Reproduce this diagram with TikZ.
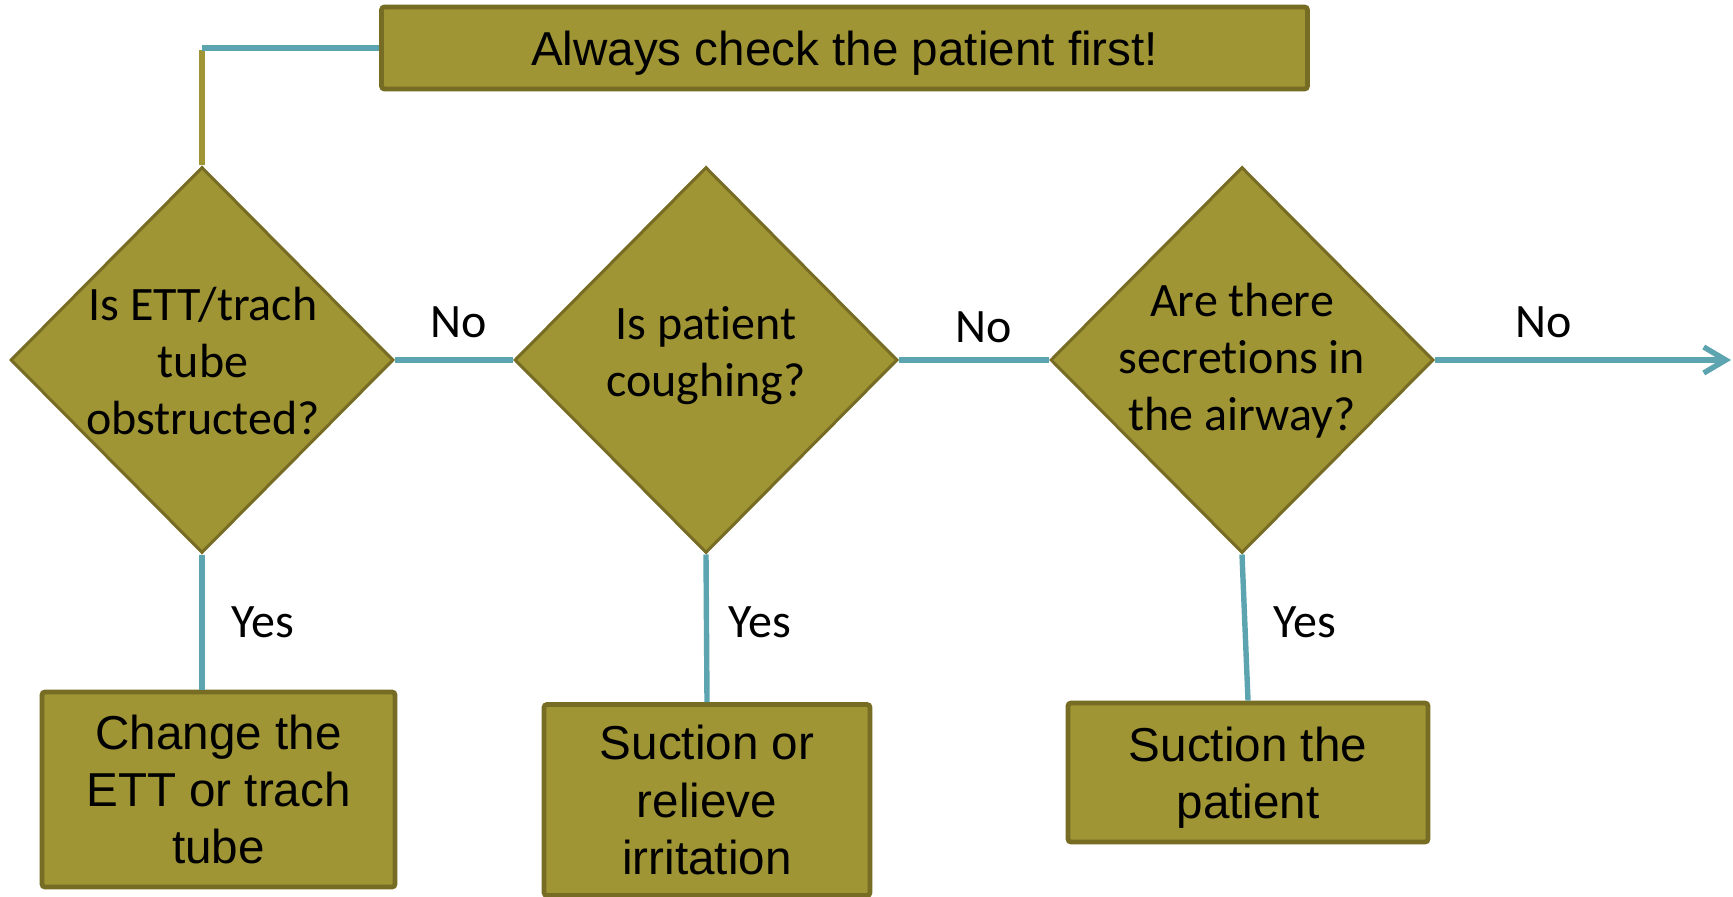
\documentclass[tikz,border=0pt]{standalone}
\usepackage{fontspec}
\setmainfont{Carlito}[Ligatures=NoCommon]
\newfontfamily\boxfont{Liberation Sans}
\usetikzlibrary{shapes.geometric,arrows.meta}
\definecolor{olivefill}{RGB}{160,149,52}
\definecolor{olivedraw}{RGB}{118,108,35}
\definecolor{tealline}{RGB}{91,164,176}
\begin{document}
\begin{tikzpicture}[x=0.5pt,y=-0.5pt,
  decision/.style={diamond,draw=olivedraw,fill=olivefill,line width=1.5pt,inner sep=0pt,minimum width=191.5pt,minimum height=193pt},
  qtext/.style={align=center,font=\fontsize{24}{28.5}\selectfont},
  actbox/.style={draw=olivedraw,fill=olivefill,line width=2.4pt,rounded corners=1.5pt,align=center,inner sep=0pt,font=\boxfont\fontsize{23.8}{28.7}\selectfont},
  lbl/.style={font=\fontsize{24}{28.5}\selectfont},
  flow/.style={tealline,line width=2.7pt}]
  \useasboundingbox (0,0) rectangle (1733,897);
  % top reminder
  \node[actbox,minimum width=463pt,minimum height=41pt,text depth=0pt] (check) at (844.5,48) {Always check the patient first!};
  % decisions
  \node[decision] (tube) at (202,360) {};
  \node[qtext] (tubet) at (203,361) {Is ETT/trach\\tube\\obstructed?};
  \node[decision] (cough) at (706,360) {};
  \node[qtext] (cought) at (706,356) {Is patient\\coughing?};
  \node[decision] (secr) at (1242,360) {};
  \node[qtext] (secrt) at (1242,361) {Are there\\secretions in\\the airway?};
  % actions
  \node[actbox,minimum width=176.5pt,minimum height=97.5pt] (change) at (218.5,789.5) {Change the\\ETT or trach\\tube};
  \node[actbox,minimum width=163pt,minimum height=95.5pt] (relieve) at (707,800) {Suction or\\relieve\\irritation};
  \node[actbox,minimum width=180pt,minimum height=69.5pt,text depth=0pt] (suction) at (1248,772.5) {Suction the\\patient};
  \coordinate (corner) at (202,48);
  \coordinate (out) at (1731,360);
  % connectors
  \draw[olivefill,line width=2.7pt] (tube.north) -- ([yshift=-1pt]corner);
  \draw[flow] (corner) -- (check.west);
  \draw[flow] (tube.east) -- (cough.west);
  \draw[flow] (cough.east) -- (secr.west);
  \draw[flow,-{Straight Barb[length=11pt,width=13pt]}] (secr.east) -- (out);
  \draw[flow] (tube.south) -- (tube.south |- change.north);
  \draw[flow] (cough.south) -- (relieve.north);
  \draw[flow] (secr.south) -- (suction.north);
  % branch labels
  \node[lbl] (no1) at (459,322) {No};
  \node[lbl] (no2) at (984,327) {No};
  \node[lbl] (no3) at (1544,322) {No};
  \node[lbl] (yes1) at (263,622) {Yes};
  \node[lbl] (yes2) at (760,622) {Yes};
  \node[lbl] (yes3) at (1305,622) {Yes};
\end{tikzpicture}
\end{document}
